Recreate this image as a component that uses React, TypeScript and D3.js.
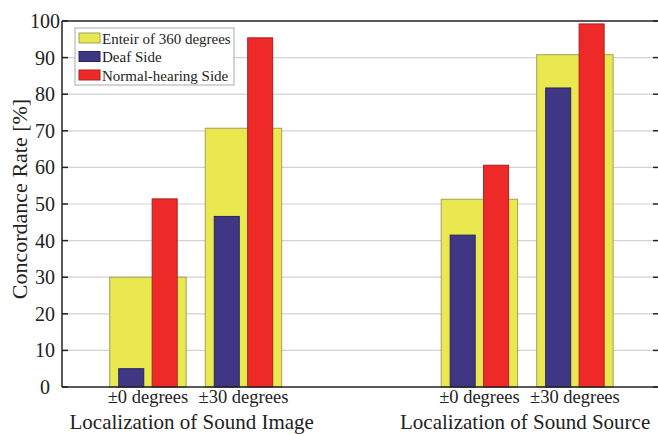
import React from "react";
import * as d3 from "d3";

const categories = ["±0 degrees", "±30 degrees", "±0 degrees", "±30 degrees"];
const categoryPositions = [1, 2, 4.47, 5.47];
const groupLabels = ["Localization of Sound Image", "Localization of Sound Source"];
const entire360 = [30, 70.7, 51.3, 90.8];
const deafSide = [5, 46.6, 41.5, 81.7];
const normalSide = [51.4, 95.4, 60.6, 99.2];
const yTicks = [0, 10, 20, 30, 40, 50, 60, 70, 80, 90, 100];
const legendLabels = ["Enteir of 360 degrees", "Deaf Side", "Normal-hearing Side"];

const W = 658;
const H = 434;
const left = 62;
const right = 658;
const top = 21;
const bottom = 387;

const FONT = "Liberation Serif, Times New Roman, Times, serif";
const YELLOW = "#e9e84e";
const BLUE = "#3f3783";
const RED = "#ee2a29";

export default function App() {
  const x = d3.scaleLinear().domain([0.1, 6.34]).range([left, right]);
  const y = d3.scaleLinear().domain([0, 100]).range([bottom, top]);
  const unit = x(1) - x(0);
  const wideW = 0.8 * unit;
  const narrowW = 0.262 * unit;
  const off = 0.175 * unit;
  const ts = { fontFamily: FONT };

  return (
    <svg
      width={W}
      height={H}
      style={{ position: "absolute", left: 0, top: 0, background: "#fff", fontFamily: FONT }}
    >
      <rect x={0} y={0} width={W} height={H} fill="#fff" />
      {yTicks
        .filter((t) => t > 0 && t < 100)
        .map((t) => (
          <line key={"g" + t} x1={left} x2={right - 5} y1={y(t)} y2={y(t)} stroke="#d2d2d2" strokeWidth={1.2} />
        ))}
      {categoryPositions.map((p, i) => {
        const cx = x(p);
        return (
          <g key={"b" + i}>
            <rect
              x={cx - wideW / 2}
              y={y(entire360[i])}
              width={wideW}
              height={y(0) - y(entire360[i])}
              fill={YELLOW}
              stroke="#a3a05a"
              strokeWidth={1}
            />
            <rect
              x={cx - off - narrowW / 2}
              y={y(deafSide[i])}
              width={narrowW}
              height={y(0) - y(deafSide[i])}
              fill={BLUE}
              stroke="#2a2460"
              strokeWidth={1}
            />
            <rect
              x={cx + off - narrowW / 2}
              y={y(normalSide[i])}
              width={narrowW}
              height={y(0) - y(normalSide[i])}
              fill={RED}
              stroke="#a82020"
              strokeWidth={1}
            />
          </g>
        );
      })}
      <line x1={left} x2={right} y1={top} y2={top} stroke="#222" strokeWidth={1.5} />
      <line x1={left} x2={right} y1={bottom} y2={bottom} stroke="#222" strokeWidth={1.5} />
      <line x1={left} x2={left} y1={top} y2={bottom} stroke="#222" strokeWidth={1.5} />
      {yTicks.map((t) => (
        <g key={"t" + t}>
          <line x1={left} x2={left + 6} y1={y(t)} y2={y(t)} stroke="#222" strokeWidth={1.5} />
          <line x1={right - 5} x2={right} y1={y(t)} y2={y(t)} stroke="#222" strokeWidth={1.5} />
          <text x={45} y={y(t) + 7} fontSize={20} textAnchor="middle" fill="#222" style={ts}>
            {t}
          </text>
        </g>
      ))}
      {categoryPositions.map((p, i) => (
        <text key={"c" + i} x={x(p)} y={403} fontSize={18.5} textAnchor="middle" fill="#222" style={ts}>
          {categories[i]}
        </text>
      ))}
      {groupLabels.map((g, i) => {
        const cx = (x(categoryPositions[i * 2]) + x(categoryPositions[i * 2 + 1])) / 2 - (i === 0 ? 4 : 2);
        return (
          <text key={"gl" + i} x={cx} y={429} fontSize={21} textAnchor="middle" fill="#222" style={ts}>
            {g}
          </text>
        );
      })}
      <text
        transform={`translate(27, 199) rotate(-90)`}
        fontSize={22}
        textAnchor="middle"
        fill="#222"
        style={ts}
      >
        Concordance Rate [%]
      </text>
      <rect x={75} y={28} width={159} height={57} fill="#fff" stroke="#aaa" strokeWidth={1} />
      {legendLabels.map((l, i) => {
        const fills = [YELLOW, BLUE, RED];
        const strokes = ["#a3a05a", "#2a2460", "#a82020"];
        const yy = 33 + i * 18.5;
        return (
          <g key={"l" + i}>
            <rect x={79} y={yy} width={21} height={10} fill={fills[i]} stroke={strokes[i]} strokeWidth={1} />
            <text x={102} y={yy + 10.5} fontSize={15} fill="#222" style={ts}>
              {l}
            </text>
          </g>
        );
      })}
    </svg>
  );
}
